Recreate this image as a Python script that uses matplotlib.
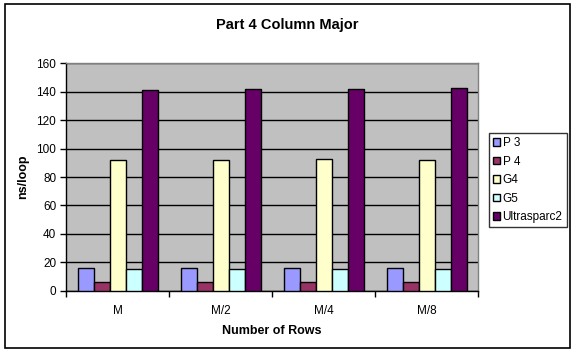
import matplotlib.pyplot as plt
import numpy as np
from matplotlib.patches import Rectangle

# data
categories = ['M', 'M/2', 'M/4', 'M/8']
series_names = ['P 3', 'P 4', 'G4', 'G5', 'Ultrasparc2']
p3 = [16, 16, 16, 16]
p4 = [6, 6, 6, 6]
g4 = [92, 92, 92.5, 92]
g5 = [15, 15, 15, 15]
ultra = [141, 141.7, 141.7, 142.4]
colors = ['#9999FF', '#993366', '#FFFFCC', '#CCFFFF', '#660066']

plt.rcParams['font.family'] = ['Liberation Sans', 'DejaVu Sans']

fig = plt.figure(figsize=(5.75, 3.55), dpi=100)
fig.patches.append(Rectangle((5/575, 1 - 348/355), 565/575, 344/355,
                             transform=fig.transFigure, fill=False,
                             edgecolor='black', linewidth=1.2))
ax = fig.add_axes([66/575, 1 - 290.7/355, 412/575, 227.4/355])
ax.set_facecolor('#C0C0C0')

x = np.arange(len(categories))
w = 16/103
allvals = [p3, p4, g4, g5, ultra]
for i, (vals, name, c) in enumerate(zip(allvals, series_names, colors)):
    ax.bar(x + (i - 2)*w, vals, w, color=c, edgecolor='black', linewidth=1,
           label=name, zorder=3)

ax.set_xlim(-0.5, 3.5)
ax.set_ylim(0, 160)
ax.set_yticks(np.arange(0, 161, 20))
ax.yaxis.grid(True, color='black', linewidth=1, zorder=1)
ax.set_xticks(np.arange(-0.5, 3.6, 1))
ax.set_xticklabels([])
ax.set_xticks(x, minor=True)
ax.set_xticklabels(categories, minor=True)
ax.tick_params(axis='x', which='minor', length=0, pad=10, labelsize=8.5)
ax.tick_params(axis='x', which='major', length=4, width=1, direction='out')
ax.tick_params(axis='y', length=4, width=1, direction='out', labelsize=8.5, pad=3)
for s in ['top', 'right']:
    ax.spines[s].set_color('#808080')
    ax.spines[s].set_linewidth(1)
ax.spines['left'].set_linewidth(1)
ax.spines['bottom'].set_linewidth(1)

ax.set_ylabel('ns/loop', fontsize=9, fontweight='bold', labelpad=5)
ax.set_xlabel('Number of Rows', fontsize=9, fontweight='bold', labelpad=6)
fig.text(0.5, 1 - 25/355, 'Part 4 Column Major', ha='center', va='center',
         fontsize=10.5, fontweight='bold')

leg = fig.legend(loc='upper left', bbox_to_anchor=(489/575, 1 - 133/355),
                 fontsize=8.5, frameon=True, fancybox=False, handlelength=0.6,
                 handleheight=0.6, handletextpad=0.2, labelspacing=0.55,
                 borderpad=0.35, borderaxespad=0)
leg.get_frame().set_edgecolor('black')
leg.get_frame().set_linewidth(1)

fig.savefig('out.png', dpi=100)
